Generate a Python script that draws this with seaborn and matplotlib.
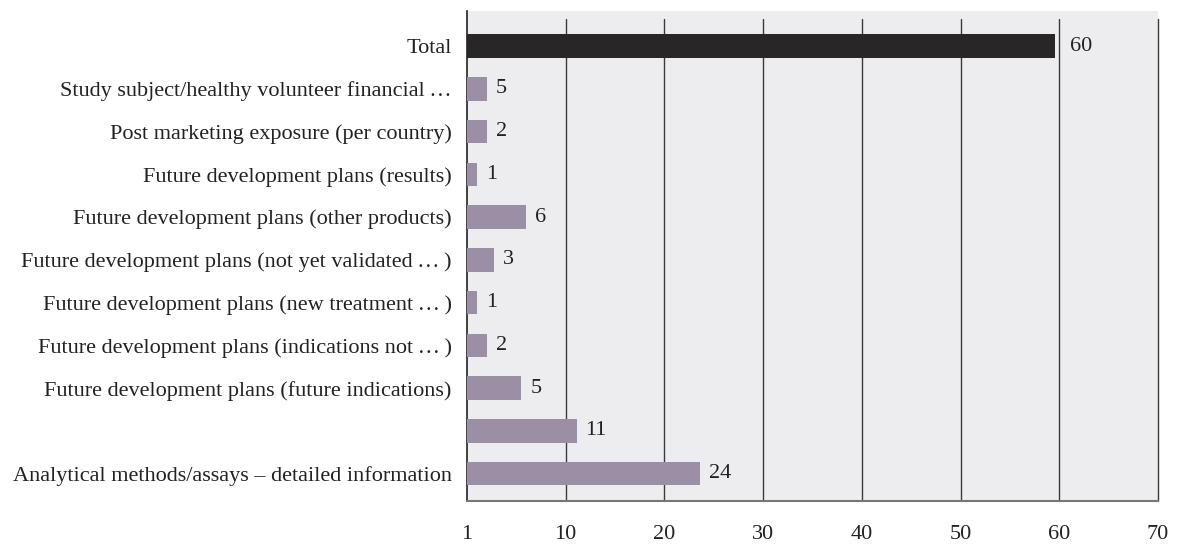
import matplotlib
matplotlib.use("Agg")
import matplotlib.pyplot as plt
import seaborn as sns
import pandas as pd

categories = [
    "Total",
    "Study subject/healthy volunteer financial\u2009…",
    "Post marketing exposure (per country)",
    "Future development plans (results)",
    "Future development plans (other products)",
    "Future development plans (not yet validated\u2009…\u2009)",
    "Future development plans (new treatment\u2009…\u2009)",
    "Future development plans (indications not\u2009…\u2009)",
    "Future development plans (future indications)",
    "",
    "Analytical methods/assays – detailed information",
]
# bar lengths as drawn in the picture
bar_values = [59.6, 2, 2, 1, 6, 2.7, 1, 2, 5.5, 11.1, 23.6]
# value labels as printed in the picture
value_labels = ["60", "5", "2", "1", "6", "3", "1", "2", "5", "11", "24"]
xticks = [0, 10, 20, 30, 40, 50, 60, 70]
xtick_labels = ["1", "10", "20", "30", "40", "50", "60", "70"]

total_color = "#282627"
bar_color = "#9B8FA6"
colors = [total_color] + [bar_color] * (len(categories) - 1)

sns.set_theme(style="white")
plt.rcParams["font.family"] = ["Liberation Serif", "DejaVu Serif"]

df = pd.DataFrame({"cat": categories, "val": bar_values})

fig = plt.figure(figsize=(11.87, 5.47), dpi=100)
ax = fig.add_axes([467 / 1187, 1 - 501 / 547, (1158 - 467) / 1187, 490 / 547])
ax.set_facecolor("#EDEDF0")

for xv in xticks[1:]:
    ax.axvline(xv, ymin=0, ymax=(501 - 19) / 490, color="#3a3a3a", lw=1.0,
               zorder=1, clip_on=False)

sns.barplot(data=df, x="val", y="cat", hue="cat", palette=colors, legend=False,
            width=0.55, ax=ax, zorder=3, saturation=1, linewidth=0)

for i, (v, lab) in enumerate(zip(bar_values, value_labels)):
    off = 15 if i == 0 else 9
    ax.annotate(lab, xy=(v, i), xytext=(off, 0), textcoords="offset pixels",
                va="center", ha="left", fontsize=16, color="#222222")

ax.set_xlim(0, 70)
ax.set_ylim(10.64, -0.82)
ax.set_xticks(xticks)
ax.set_xticklabels(xtick_labels)
ax.set_xlabel("")
ax.set_ylabel("")
ax.tick_params(axis="x", length=0, pad=17, labelsize=16, colors="#222222")
ax.tick_params(axis="y", length=0, pad=11, labelsize=16, colors="#222222")

for s in ["top", "right"]:
    ax.spines[s].set_visible(False)
ax.spines["left"].set_color("#222222")
ax.spines["left"].set_linewidth(1.2)
ax.spines["bottom"].set_color("#777777")
ax.spines["bottom"].set_linewidth(1.5)

fig.savefig("out.png", dpi=100)
